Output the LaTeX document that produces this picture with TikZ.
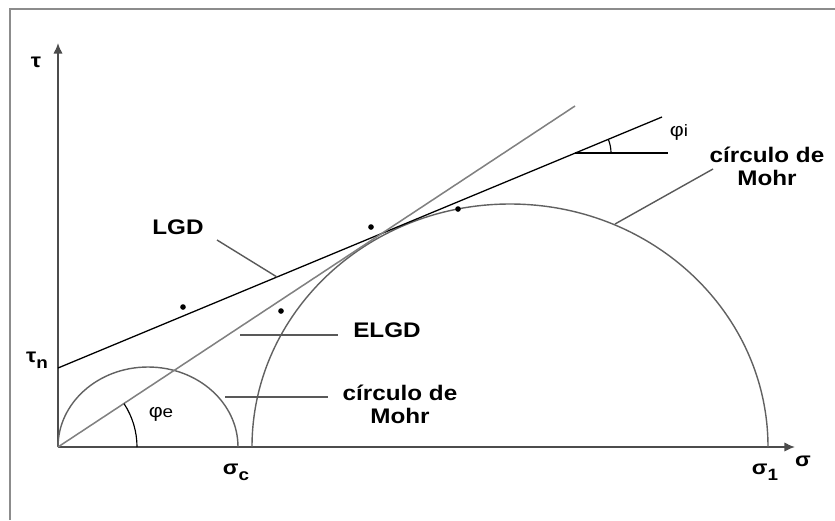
\documentclass[tikz,border=0pt]{standalone}
\usepackage{fontspec}
\setmainfont[FakeStretch=1.15]{Liberation Sans}
\usetikzlibrary{arrows.meta,positioning}

\newcommand{\lowsub}[1]{\raisebox{-0.32em}{\fontsize{14}{14}\selectfont #1}}

\begin{document}
\begin{tikzpicture}[x=0.03cm,y=-0.03cm,>={Latex[length=9pt,width=8pt]},
    frame/.style={draw=black!45,line width=2.4pt},
    axis/.style={draw=black!70,line width=1.5pt},
    curve/.style={draw=black!62,line width=1.2pt},
    envelope/.style={draw=black!50,line width=1.3pt},
    leader/.style={draw=black!65,line width=1.2pt},
    lbl/.style={font=\bfseries\fontsize{18}{19.5}\selectfont,inner sep=0pt,align=center},
    greek/.style={font=\bfseries\fontsize{17}{17}\selectfont,inner sep=0pt},
    angle/.style={font=\fontsize{16}{16}\selectfont,inner sep=0pt},
    pt/.style={circle,fill=black,inner sep=0pt,minimum size=4.8pt}]
  \useasboundingbox (0,0) rectangle (835,520);
  \draw[frame] (10,520) -- (10,9) -- (835,9);

  % axes
  \coordinate (O) at (58,447);
  \coordinate (ytip) at (58,43);
  \coordinate (xtip) at (795,447);
  \draw[axis,->] (O) -- (ytip);
  \draw[axis,->] (O) -- (xtip);
  \node[greek] (tau) at (36,62) {τ};
  \node[greek] (sig) at (803,461) {σ};

  % Mohr circles
  \draw[curve] (O) arc[start angle=180,end angle=360,x radius=90,y radius=80];
  \coordinate (bigL) at (252,447);
  \draw[curve] (bigL) arc[start angle=180,end angle=360,x radius=258,y radius=243];
  \node[greek] (sigc) at (236,472) {σ\lowsub{c}};
  \node[greek] (sig1) at (765,472) {σ\lowsub{1}};

  % envelopes
  \coordinate (tn) at (58,368);
  \coordinate (lgdEnd) at (662,117);
  \coordinate (elgdEnd) at (575,106);
  \draw[draw=black,line width=1.1pt] (tn) -- (lgdEnd);
  \draw[envelope] (O) -- (elgdEnd);
  \node[greek] (taun) at (37,360) {τ\lowsub{n}};

  % angles
  \coordinate (phiA) at (575,153);
  \coordinate (phiB) at (668,153);
  \draw[draw=black,line width=1.1pt] (phiA) -- (phiB);
  \draw[draw=black,line width=1pt] (phiA) ++(36,0) arc[start angle=0,end angle=-22.6,radius=36];
  \node[angle] (phii) at (679,132) {φ{\fontsize{14}{14}\selectfont i}};
  \draw[draw=black,line width=1pt] (O) ++(79,0) arc[start angle=0,end angle=-33.3,radius=79];
  \node[angle] (phie) at (161,414) {φ{\fontsize{14}{14}\selectfont e}};

  % points
  \node[pt] (p1) at (183,307) {};
  \node[pt] (p2) at (281,311) {};
  \node[pt] (p3) at (371,227) {};
  \node[pt] (p4) at (458,209) {};

  % labels and leaders
  \node[lbl] (lgd) at (178,227) {LGD};
  \coordinate (lgdA) at (217,240);
  \coordinate (lgdB) at (277,277);
  \draw[leader] (lgdA) -- (lgdB);

  \node[lbl] (elgd) at (387,330) {ELGD};
  \coordinate (elgdA) at (240,335);
  \coordinate (elgdB) at (338,335);
  \draw[leader] (elgdA) -- (elgdB);

  \node[lbl] (mohrS) at (400,404) {círculo de\\Mohr};
  \coordinate (mohrSA) at (225,397);
  \coordinate (mohrSB) at (328,397);
  \draw[leader] (mohrSA) -- (mohrSB);

  \node[lbl] (mohrB) at (767,166) {círculo de\\Mohr};
  \coordinate (mohrBA) at (713,169);
  \coordinate (mohrBB) at (615,224);
  \draw[leader] (mohrBA) -- (mohrBB);
\end{tikzpicture}
\end{document}
